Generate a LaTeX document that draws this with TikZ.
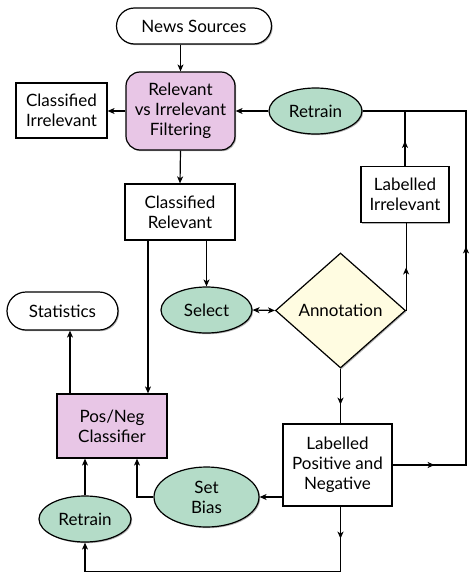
\documentclass[tikz,border=0pt]{standalone}
\usepackage{fontspec}
\setmainfont{Lato}
\usetikzlibrary{shapes.geometric,arrows.meta,shadows,decorations.markings}
\definecolor{procpurple}{RGB}{232,198,230}
\definecolor{ovalgreen}{RGB}{180,220,200}
\definecolor{diayellow}{RGB}{255,252,225}
\begin{document}
\begin{tikzpicture}[x=1pt,y=-1pt,
  font=\fontsize{17}{20}\selectfont,
  base/.style={draw=black,line width=1.2pt,align=center,inner sep=0pt,
    drop shadow={shadow xshift=1.2pt,shadow yshift=-1.2pt,fill=black,opacity=0.3}},
  pill/.style={base,fill=white,rounded corners=18pt},
  proc/.style={base,fill=procpurple},
  box/.style={base,fill=white},
  oval/.style={base,ellipse,fill=ovalgreen},
  dia/.style={base,diamond,fill=diayellow},
  link/.style={line width=1.2pt,line join=miter},
  arr/.style={link,-{Stealth[length=7pt,width=6pt,inset=2pt]}},
  midarr/.style={postaction={decorate},decoration={markings,
    mark=at position #1 with {\arrow{Stealth[length=7pt,width=6pt,inset=2pt]}}}}
]
\useasboundingbox (0,0) rectangle (469,573);
\fill[white] (0,0) rectangle (469,573);

\node[pill,minimum width=155pt,minimum height=36pt] (news) at (194,26) {News Sources};
\node[proc,rounded corners=14pt,minimum width=109pt,minimum height=78pt] (filt) at (180.5,111) {Relevant\\vs Irrelevant\\Filtering};
\node[box,minimum width=91pt,minimum height=55pt] (cirr) at (61.5,110.5) {Classified\\Irrelevant};
\node[oval,minimum width=93pt,minimum height=46pt] (rt1) at (315.5,111) {Retrain};
\node[box,minimum width=88pt,minimum height=56pt] (lirr) at (405,194.5) {Labelled\\Irrelevant};
\node[box,minimum width=110pt,minimum height=56pt] (crel) at (180,212) {Classified\\Relevant};
\node[oval,minimum width=91pt,minimum height=46pt] (sel) at (206.5,310) {Select};
\node[dia,aspect=1.13,minimum width=130pt,minimum height=115pt] (ann) at (340.5,310.5) {Annotation};
\node[pill,rounded corners=19pt,minimum width=111pt,minimum height=38pt] (stat) at (62.5,311) {Statistics};
\node[proc,minimum width=110pt,minimum height=64pt] (pn) at (112,426) {Pos/Neg\\Classifier};
\node[box,minimum width=109pt,minimum height=82pt] (lpn) at (337.5,465) {Labelled\\Positive and\\Negative};
\node[oval,minimum width=105pt,minimum height=60pt] (bias) at (206.5,497) {Set\\Bias};
\node[oval,minimum width=92pt,minimum height=46pt] (rt2) at (85,519) {Retrain};

\coordinate (rtop) at (466,111);
\coordinate (rbot) at (466,465);
\coordinate (bot) at (340.5,571.5);

% top flow
\draw[arr] (filt.north |- news.south) -- (filt.north);
\draw[arr] (filt.west) -- (cirr.east |- filt.west);
\draw[arr] (rt1.west) -- (filt.east);
\draw[arr] (filt.south) -- (crel.north);
\draw[arr] (crel.south -| sel.north) -- (sel.north);
\draw[arr] ([xshift=-32pt]crel.south) -- ([xshift=-32pt]crel.south |- pn.north);
\draw[link,{Stealth[length=7pt,width=6pt,inset=2pt]}-{Stealth[length=7pt,width=6pt,inset=2pt]}] (sel.east) -- (ann.west);

% annotation to labelled irrelevant and retrain
\draw[link,midarr=43pt] (ann.east) -- (ann.east |- lirr.south);
\draw[link,midarr=25pt] (lirr.north) -- (lirr.north |- rtop);
\draw[link,postaction={decorate},decoration={markings,
    mark=at position 42pt with {\arrow{Stealth[length=7pt,width=6pt,inset=2pt]}},
    mark=at position 292pt with {\arrow{Stealth[length=7pt,width=6pt,inset=2pt]}}}]
  (lpn.east) -- (rbot) -- (rtop) -- (rt1.east);

% annotation to labelled positive/negative
\draw[link,midarr=36pt] (ann.south) -- (ann.south |- lpn.north);

% lower flow
\draw[arr] (bias.east -| lpn.west) -- (bias.east);
\draw[arr] (bias.west) -| ([xshift=25pt]pn.south);
\draw[arr] (rt2.north) -- (rt2.north |- pn.south);
\draw[arr] ([xshift=-42pt]pn.north) -- ([xshift=-42pt]pn.north |- stat.south);
\draw[arr,midarr=32pt] (lpn.south -| bot) -- (bot) -| (rt2.south);
\end{tikzpicture}
\end{document}
